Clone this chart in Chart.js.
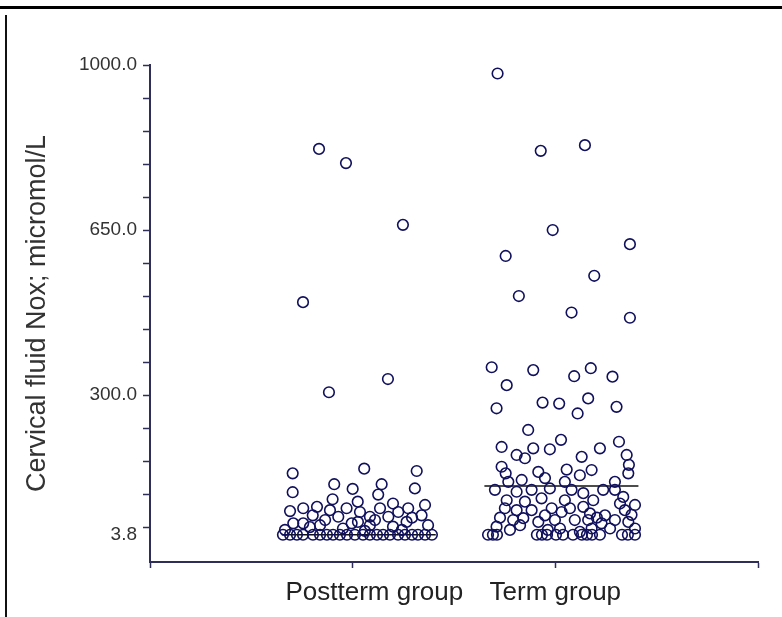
<!DOCTYPE html>
<html>
<head>
<meta charset="utf-8">
<script src="https://cdn.jsdelivr.net/npm/chart.js@4.4.1/dist/chart.umd.min.js"></script>
<style>
  html, body { margin: 0; padding: 0; background: #fff; }
  #wrap { position: relative; width: 782px; height: 617px; }
  #topBar { position: absolute; left: 0; top: 6px; width: 782px; height: 3px; background: #000; }
  #leftBar { position: absolute; left: 5px; top: 15px; width: 2px; height: 602px; background: #111; }
</style>
</head>
<body>
<div id="wrap">
  <canvas id="dotChart" width="782" height="617"></canvas>
  <div id="topBar"></div>
  <div id="leftBar"></div>
</div>
<script>
const categories = ['Postterm group', 'Term group'];
const yTitle = 'Cervical fluid Nox; micromol/L';

// y ticks: minor every 70, labels only on a few
const yTickValues = [3.8, 20, 90, 160, 230, 300, 370, 440, 510, 580, 650, 720, 790, 860, 930, 1000];
const yLabelValues = [3.8, 300, 650, 1000];
const yLabelTexts = ['3.8', '300.0', '650.0', '1000.0'];

// medians
const groupMedians = [3.8, 107];

// Postterm group: x (jittered position on 0..3 axis) and value
const postX = [0.834, 0.967, 1.248, 0.755, 0.883, 1.174, 0.704, 1.057, 1.316, 0.704,
  0.909, 1.000, 1.143, 1.126, 1.307, 0.901, 1.025, 0.691, 0.756, 0.803,
  0.756, 0.888, 0.929, 0.970, 1.036, 1.085, 1.135, 1.176, 1.225, 1.274,
  1.340, 1.357, 1.085, 0.839, 0.707, 1.266, 0.995,
  0.666, 0.789, 0.864, 0.952, 1.026, 1.060, 1.110, 1.199, 1.243, 1.293,
  1.372, 0.824, 1.199,
  0.656, 0.691, 0.725, 0.755, 0.804, 0.839, 0.873, 0.903, 0.937, 0.972,
  1.011, 1.051, 1.085, 1.120, 1.150, 1.184, 1.224, 1.258, 1.293, 1.322,
  1.357, 1.391];
const postY = [822, 792, 661, 497, 306, 334, 134, 144, 139, 94,
  111, 101, 111, 89, 102, 79, 74, 54, 60, 45,
  28, 56, 42, 60, 52, 42, 60, 42, 52, 60,
  45, 67, 24, 24, 28, 31, 28,
  14, 20, 35, 17, 31, 12, 35, 21, 14, 40,
  24, 63, 70,
  3.8, 3.8, 3.8, 3.8, 3.8, 3.8, 3.8, 3.8, 3.8, 3.8,
  3.8, 3.8, 3.8, 3.8, 3.8, 3.8, 3.8, 3.8, 3.8, 3.8,
  3.8, 3.8];

// Term group
const termX = [1.715, 1.928, 2.146, 1.987, 2.368, 1.755, 2.192, 1.820, 2.080, 2.368,
  1.686, 1.891, 1.760, 2.093, 2.175, 2.282, 1.710, 1.937, 2.019, 2.162,
  2.110, 2.302, 1.866, 2.028, 2.314, 1.735, 1.891, 1.973, 2.220, 1.809,
  1.850, 2.130, 2.352, 2.363, 1.735, 1.755, 1.916, 2.056, 2.121, 2.179,
  2.360, 1.768, 1.834, 1.949, 2.047, 2.294, 1.702, 1.809, 1.883, 1.973,
  2.080, 2.138, 2.236, 2.294, 2.335, 1.760, 1.850, 1.932, 2.047, 2.187,
  1.751, 1.809, 1.883, 1.982, 2.031, 2.138, 2.171, 2.343, 2.393, 2.376,
  1.792, 1.842, 1.916, 1.998, 2.096, 2.162, 2.228, 2.294, 2.360, 1.710,
  1.776, 2.023, 2.179, 2.270, 2.393,
  1.727, 1.826, 1.949, 2.072, 2.205, 2.319, 1.963, 2.121, 2.245,
  1.668, 1.692, 1.712, 1.909, 1.934, 1.959, 2.003, 2.038, 2.087, 2.131,
  2.156, 2.181, 2.220, 2.329, 2.358, 2.393];
const termY = [982, 818, 830, 650, 620, 595, 553, 510, 475, 464,
  359, 353, 321, 340, 357, 339, 272, 284, 282, 293,
  261, 275, 226, 205, 201, 190, 187, 185, 187, 173,
  166, 169, 173, 152, 148, 134, 137, 142, 130, 141,
  134, 116, 120, 124, 116, 116, 99, 95, 99, 102,
  99, 92, 99, 99, 84, 77, 74, 81, 77, 77,
  60, 56, 56, 60, 52, 63, 49, 56, 67, 46,
  35, 39, 31, 35, 35, 35, 28, 35, 31, 21,
  14, 17, 17, 17, 17,
  40, 24, 45, 60, 40, 70, 14, 10, 45,
  3.8, 3.8, 3.8, 3.8, 3.8, 3.8, 3.8, 3.8, 3.8, 3.8,
  3.8, 3.8, 3.8, 3.8, 3.8, 3.8];

const axisColor = '#2e2e58';
const pointColor = '#10105c';
const fontFamily = '"Liberation Sans", Arial, sans-serif';

const toPoints = (xs, ys) => xs.map((x, i) => ({ x: x, y: ys[i] }));

const medianLine = (i) => {
  const centre = i + 1.03;
  return [{ x: centre - 0.38, y: groupMedians[i] }, { x: centre + 0.38, y: groupMedians[i] }];
};

const pointStyle = {
  pointRadius: 5.3,
  pointHoverRadius: 5.3,
  pointBorderWidth: 1.6,
  borderColor: pointColor,
  backgroundColor: 'rgba(0,0,0,0)',
  pointBackgroundColor: 'rgba(0,0,0,0)'
};

new Chart(document.getElementById('dotChart').getContext('2d'), {
  type: 'scatter',
  data: {
    datasets: [
      { label: categories[0], data: toPoints(postX, postY), ...pointStyle },
      { label: categories[1], data: toPoints(termX, termY), ...pointStyle },
      { type: 'line', label: 'median0', data: medianLine(0), borderColor: '#111', borderWidth: 1.5, pointRadius: 0, showLine: true },
      { type: 'line', label: 'median1', data: medianLine(1), borderColor: '#111', borderWidth: 1.5, pointRadius: 0, showLine: true }
    ]
  },
  options: {
    responsive: false,
    animation: false,
    layout: { padding: { top: 65, right: 24, bottom: 0, left: 0 } },
    plugins: { legend: { display: false }, tooltip: { enabled: false } },
    scales: {
      x: {
        type: 'linear',
        min: 0,
        max: 3,
        afterBuildTicks: scale => { scale.ticks = [0, 1, 2, 3].map(v => ({ value: v })); },
        afterFit: scale => { scale.height = 55; },
        grid: { drawOnChartArea: false, color: axisColor, tickColor: axisColor, tickLength: 6, tickWidth: 1.5 },
        border: { color: axisColor, width: 2 },
        ticks: {
          autoSkip: false,
          maxRotation: 0,
          padding: 9,
          color: '#222',
          font: { family: fontFamily, size: 26 },
          // leading spaces nudge the first label right, like the original
          callback: v => (v === 1 ? '      ' + categories[0] : v === 2 ? categories[1] : '')
        }
      },
      y: {
        type: 'linear',
        min: -54,
        max: 1000,
        afterBuildTicks: scale => { scale.ticks = yTickValues.map(v => ({ value: v })); },
        afterFit: scale => { scale.width = 150; },
        grid: {
          drawOnChartArea: false,
          color: axisColor,
          tickColor: ctx => (ctx.tick && ctx.tick.value === 3.8 ? 'rgba(0,0,0,0)' : axisColor),
          tickLength: 7,
          tickWidth: 1.5
        },
        border: { color: axisColor, width: 2 },
        ticks: {
          autoSkip: false,
          padding: 6,
          color: '#333',
          font: { family: fontFamily, size: 19 },
          callback: v => {
            const i = yLabelValues.indexOf(v);
            return i >= 0 ? yLabelTexts[i] : '';
          }
        },
        title: {
          display: true,
          text: yTitle,
          color: '#333',
          font: { family: fontFamily, size: 27 },
          padding: { top: 21, bottom: 0 }
        }
      }
    }
  }
});
</script>
</body>
</html>
